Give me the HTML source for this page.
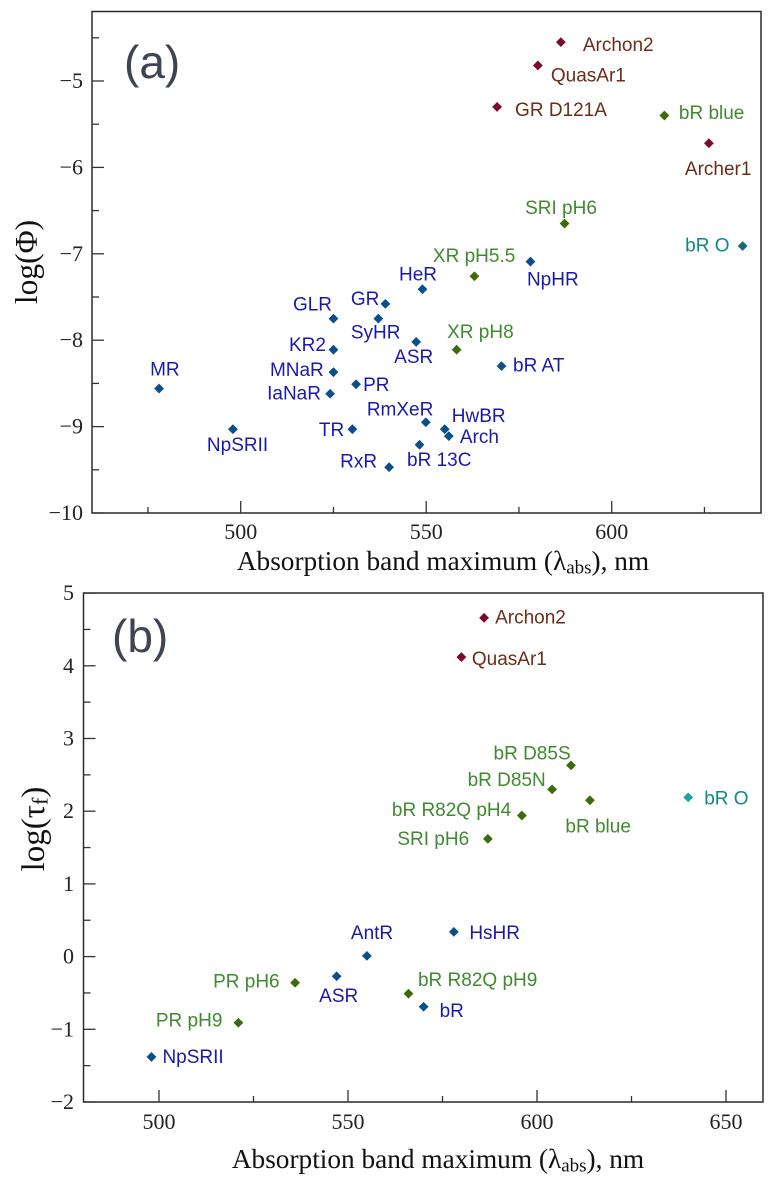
<!DOCTYPE html>
<html lang="en">
<head>
<meta charset="utf-8">
<title>Absorption band maximum scatter plots</title>
<style>
html,body{margin:0;padding:0;background:#fff;width:776px;height:1180px;overflow:hidden}
svg{display:block}
.tick{font-family:"Liberation Serif",serif;font-size:22px;fill:#222}
.title{font-family:"Liberation Serif",serif;fill:#111}
.pt{font-family:"Liberation Sans",sans-serif;font-size:19px}
.panel{font-family:"Liberation Sans",sans-serif;font-size:46px;fill:#3d4452}
</style>
</head>
<body>
<svg id="chart" xmlns="http://www.w3.org/2000/svg" width="776" height="1180" viewBox="0 0 776 1180"></svg>
<script>
// Panel (a) data
const namesA = ["Archon2","QuasAr1","GR D121A","bR blue","Archer1","SRI pH6","bR O","XR pH5.5","NpHR","HeR","GR","GLR","SyHR","KR2","ASR","XR pH8","MNaR","bR AT","MR","PR","IaNaR","RmXeR","HwBR","Arch","NpSRII","TR","bR 13C","RxR"];
const lambdaA = [586.3,580.1,569.1,614.2,626.2,587.3,635.3,563,578.1,549,539,525,537.1,525,547.3,558.2,525,570.3,478,531.1,524.1,549.9,555,556.1,497.9,530.1,548.2,540];
const logPhi = [-4.55,-4.82,-5.3,-5.4,-5.72,-6.65,-6.91,-7.26,-7.09,-7.41,-7.58,-7.75,-7.75,-8.11,-8.02,-8.11,-8.37,-8.3,-8.56,-8.51,-8.62,-8.95,-9.03,-9.11,-9.03,-9.03,-9.21,-9.47];
const groupsA = ["red","red","red","green","red","green","teal","green","blue","blue","blue","blue","blue","blue","blue","green","blue","blue","blue","blue","blue","blue","blue","blue","blue","blue","blue","blue"];
const xTicksA = [500,550,600];
const yTicksA = [-5,-6,-7,-8,-9,-10];

// Panel (b) data
const namesB = ["Archon2","QuasAr1","bR D85S","bR D85N","bR blue","bR O","bR R82Q pH4","SRI pH6","HsHR","AntR","PR pH6","ASR","bR R82Q pH9","bR","PR pH9","NpSRII"];
const lambdaB = [586,580,609,604,614,640,596,587,578,555,536,547,566,570,521,498];
const logTau = [4.66,4.12,2.63,2.3,2.15,2.19,1.94,1.62,0.34,0.01,-0.36,-0.27,-0.51,-0.69,-0.91,-1.38];
const groupsB = ["red","red","green","green","green","tealB","green","green","blue","blue","green","blue","green","blue","green","blue"];
const xTicksB = [500,550,600,650];
const yTicksB = [5,4,3,2,1,0,-1,-2];

// Label placement relative to each mark (layout only)
const labelShiftA = [[22,9],[13,16],[18,9],[14.5,3.5],[-24,32],[-39.5,-9.5],[-57.5,5.5],[-41.5,-14.5],[-3.5,24],[-23.5,-8.5],[-34.5,1],[-40.5,-8],[-27.5,20],[-44.5,1.5],[-22,21],[-9.5,-11.5],[-63.5,4],[11.5,5.5],[-9,-13],[7,6.5],[-63,5.5],[-59,-7],[7,-7],[11,7],[-26,22],[-33.5,7],[-12.5,21.5],[-49,0.5]];
const labelShiftB = [[11,5.5],[10.5,8],[-77.5,-6],[-84.5,-3.5],[-24.5,32],[16,7],[-130,0.5],[-90.5,6],[15.5,7],[-16,-17],[-82,4.5],[-17.5,26],[9.5,-7.5],[16,10],[-82.5,3.5],[11,6]];

const markerColors = {red:"#7a0a30",green:"#3d6b0a",teal:"#0e6e72",tealB:"#17a5a5",blue:"#0b4f8a"};
const textColors = {red:"#6b2c1a",green:"#3f8a2f",teal:"#0f8a80",tealB:"#0f8a80",blue:"#1a1aaa"};
const NS = "http://www.w3.org/2000/svg";
const root = document.getElementById("chart");

function make(tag, attrs, parent, txt){
  const el = document.createElementNS(NS, tag);
  for (const k in attrs) el.setAttribute(k, attrs[k]);
  if (txt !== undefined) el.textContent = txt;
  parent.appendChild(el);
  return el;
}
function fmt(v){ return v < 0 ? "\u2212" + Math.abs(v) : String(v); }

function drawPanel(cfg){
  const g = make("g", {}, root);
  
  
  const sx = v => cfg.x0 + (v - cfg.xRef) * cfg.xs;
  const sy = v => cfg.bottom - (v - cfg.yMin) * cfg.ys;

  // frame
  const frame = make("rect", {x:cfg.left, y:cfg.top, width:cfg.right-cfg.left, height:cfg.bottom-cfg.top, fill:"none", stroke:"#2a2a2a", "stroke-width":1.5}, g);
  
  

  // x ticks
  cfg.xTicks.forEach(v => {
    const t = make("line", {x1:sx(v), x2:sx(v), y1:cfg.bottom, y2:cfg.bottom-12, stroke:"#333", "stroke-width":1.3}, g);
    
    
    const l = make("text", {x:sx(v), y:cfg.xLabelY, "text-anchor":"middle", class:"tick"}, g, fmt(v));
    
    
  });
  for (let v = cfg.xMinorStart; sx(v) < cfg.right; v += 50){
    const t = make("line", {x1:sx(v), x2:sx(v), y1:cfg.bottom, y2:cfg.bottom-6, stroke:"#333", "stroke-width":1.3}, g);
    
    
  }
  // y ticks
  cfg.yTicks.forEach(v => {
    const t = make("line", {x1:cfg.left, x2:cfg.left+12, y1:sy(v), y2:sy(v), stroke:"#333", "stroke-width":1.3}, g);
    
    
    const l = make("text", {x:cfg.yLabelX, y:sy(v)+7, "text-anchor":"end", class:"tick"}, g, fmt(v));
    
    
    const m = sy(v + 0.5);
    if (m > cfg.top + 2){
      const mt = make("line", {x1:cfg.left, x2:cfg.left+7, y1:m, y2:m, stroke:"#333", "stroke-width":1.3}, g);
      
      
    }
  });

  // points
  cfg.names.forEach((name, i) => {
    const px = sx(cfg.xs_data[i]), py = sy(cfg.ys_data[i]), r = 4.9;
    const d = make("polygon", {points:[[px,py-r],[px+r,py],[px,py+r],[px-r,py]].map(p => p.join(",")).join(" "), fill:markerColors[cfg.groups[i]]}, g);
    
    
    const t = make("text", {x:px+cfg.shift[i][0], y:py+cfg.shift[i][1], class:"pt", fill:textColors[cfg.groups[i]]}, g, name);
    
    
  });

  // panel letter
  const pl = make("text", {x:cfg.letterX, y:cfg.letterY, class:"panel"}, g, cfg.letter);
  
  

  // x title
  const xt = make("text", {x:cfg.xTitleX, y:cfg.xTitleY, "text-anchor":"middle", class:"title", "font-size":27.3}, g);
  
  
  make("tspan", {}, xt, "Absorption band maximum (\u03bb");
  make("tspan", {dy:3.5, "font-size":19}, xt, "abs");
  make("tspan", {dy:-3.5}, xt, "), nm");

  // y title
  const yt = make("text", {transform:"translate(" + cfg.yTitleX + "," + cfg.yTitleY + ") rotate(-90)", "text-anchor":"middle", class:"title", "font-size":cfg.yTitleSize}, g);
  
  
  make("tspan", {}, yt, cfg.yTitleMain);
  if (cfg.yTitleSub){
    make("tspan", {dy:3.5, "font-size":22}, yt, cfg.yTitleSub);
    make("tspan", {dy:-3.5}, yt, ")");
  }
}

drawPanel({id:"panel-a", letter:"(a)", letterX:124, letterY:78,
  left:92, right:761, top:11.5, bottom:513,
  x0:240.7, xRef:500, xs:3.71, yMin:-10, ys:86.4,
  xTicks:xTicksA, yTicks:yTicksA, xMinorStart:475,
  xLabelY:539, yLabelX:83,
  names:namesA, xs_data:lambdaA, ys_data:logPhi, groups:groupsA, shift:labelShiftA,
  xTitleX:443, xTitleY:570, yTitleX:37, yTitleY:262, yTitleSize:31.5, yTitleMain:"log(\u03a6)"});

drawPanel({id:"panel-b", letter:"(b)", letterX:112, letterY:652,
  left:83.5, right:763, top:593, bottom:1102,
  x0:159, xRef:500, xs:3.78, yMin:-2, ys:72.7,
  xTicks:xTicksB, yTicks:yTicksB, xMinorStart:525,
  xLabelY:1129, yLabelX:74,
  names:namesB, xs_data:lambdaB, ys_data:logTau, groups:groupsB, shift:labelShiftB,
  xTitleX:438, xTitleY:1168, yTitleX:44, yTitleY:829, yTitleSize:33, yTitleMain:"log(\u03c4", yTitleSub:"f"});
</script>
</body>
</html>
